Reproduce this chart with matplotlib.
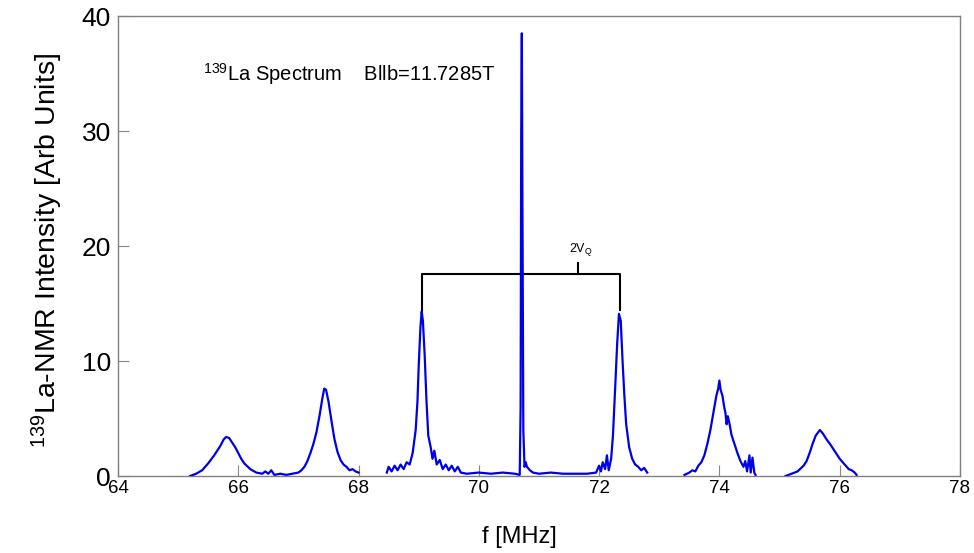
import matplotlib
matplotlib.use("Agg")
import matplotlib.pyplot as plt

plt.rcParams['font.family'] = ['Liberation Sans', 'DejaVu Sans']
plt.rcParams['mathtext.fontset'] = 'custom'
plt.rcParams['mathtext.rm'] = 'Liberation Sans'
plt.rcParams['mathtext.it'] = 'Liberation Sans:italic'

seg1_f = [65.20, 65.30, 65.40, 65.50, 65.60, 65.70, 65.76, 65.80, 65.85, 65.90, 65.95, 66.00,
          66.05, 66.10, 66.20, 66.30, 66.40, 66.45, 66.50, 66.55, 66.60, 66.70, 66.80, 66.90,
          67.00, 67.05, 67.10, 67.15, 67.20, 67.25, 67.30, 67.35, 67.40, 67.43, 67.46, 67.50,
          67.55, 67.60, 67.65, 67.70, 67.75, 67.80, 67.85, 67.90, 67.95, 68.00]
seg1_i = [0.0, 0.2, 0.5, 1.1, 1.8, 2.6, 3.2, 3.4, 3.3, 2.9, 2.5, 2.0,
          1.5, 1.1, 0.6, 0.3, 0.2, 0.4, 0.2, 0.5, 0.1, 0.2, 0.1, 0.2,
          0.3, 0.5, 0.8, 1.3, 2.0, 2.8, 3.8, 5.2, 6.8, 7.6, 7.5, 6.5,
          4.8, 3.2, 2.1, 1.4, 1.0, 0.8, 0.5, 0.6, 0.4, 0.3]

seg2_f = [68.47, 68.50, 68.55, 68.60, 68.65, 68.70, 68.75, 68.80, 68.85, 68.90, 68.95, 68.98,
          69.00, 69.03, 69.05, 69.07, 69.10, 69.13, 69.16, 69.20, 69.23, 69.26, 69.30, 69.35,
          69.40, 69.45, 69.50, 69.55, 69.60, 69.65, 69.70, 69.80, 70.00, 70.20, 70.40, 70.60,
          70.68, 70.695, 70.705, 70.715, 70.725, 70.74, 70.76, 70.78, 70.80, 70.85, 70.90, 71.00,
          71.20, 71.40, 71.60, 71.80, 71.95, 72.00, 72.03, 72.06, 72.10, 72.13, 72.16, 72.20,
          72.23, 72.27, 72.30, 72.33, 72.36, 72.39, 72.42, 72.45, 72.50, 72.55, 72.60, 72.65,
          72.70, 72.75, 72.80]
seg2_i = [0.3, 0.8, 0.4, 0.9, 0.5, 1.0, 0.6, 1.2, 1.0, 2.0, 4.0, 6.5,
          9.5, 13.0, 14.3, 13.5, 10.5, 6.5, 3.5, 2.5, 1.5, 2.2, 1.0, 1.4,
          0.6, 1.0, 0.5, 0.9, 0.4, 0.8, 0.3, 0.2, 0.3, 0.2, 0.3, 0.2,
          0.1, 6.0, 30.0, 38.5, 24.0, 4.0, 0.8, 1.2, 0.8, 0.5, 0.3, 0.2,
          0.3, 0.2, 0.2, 0.2, 0.3, 0.9, 0.4, 1.2, 0.6, 1.8, 0.5, 1.5,
          3.5, 8.0, 11.5, 14.1, 13.5, 10.0, 7.0, 4.5, 2.5, 1.5, 1.0, 0.8,
          0.5, 0.7, 0.3]

seg3_f = [73.42, 73.50, 73.55, 73.60, 73.65, 73.70, 73.75, 73.80, 73.85, 73.90, 73.95, 73.98,
          74.00, 74.02, 74.05, 74.08, 74.10, 74.12, 74.14, 74.17, 74.20, 74.25, 74.30, 74.35,
          74.40, 74.43, 74.46, 74.50, 74.52, 74.55, 74.58, 74.60]
seg3_i = [0.1, 0.3, 0.5, 0.4, 0.9, 1.2, 1.8, 2.8, 4.0, 5.5, 7.0, 7.6,
          8.3, 7.5, 7.0, 6.0, 5.5, 4.5, 5.2, 4.5, 3.6, 2.8, 2.0, 1.3,
          0.8, 1.3, 0.4, 1.8, 0.3, 1.6, 0.3, 0.1]

seg4_f = [75.10, 75.20, 75.30, 75.40, 75.45, 75.50, 75.55, 75.60, 75.67, 75.72, 75.78, 75.85,
          75.90, 75.95, 76.00, 76.05, 76.10, 76.15, 76.20, 76.25, 76.28]
seg4_i = [0.0, 0.2, 0.4, 0.9, 1.3, 2.0, 2.8, 3.5, 4.0, 3.7, 3.2, 2.7,
          2.3, 1.9, 1.5, 1.2, 0.9, 0.6, 0.5, 0.3, 0.1]

segments = [(seg1_f, seg1_i), (seg2_f, seg2_i), (seg3_f, seg3_i), (seg4_f, seg4_i)]

# bracket marking 2 nu_Q between satellites
bracket_left = 69.05
bracket_right = 72.35
bracket_y = 17.6
bracket_bottom = 14.4
bracket_tick_x = 71.65
bracket_tick_top = 18.5

x_ticks = [64, 66, 68, 70, 72, 74, 76, 78]
y_ticks = [0, 10, 20, 30, 40]

fig = plt.figure(figsize=(9.74, 5.53), dpi=100)
ax = fig.add_axes([0.1211, 0.1392, 0.8645, 0.8318])

ax.plot([bracket_left, bracket_left, bracket_right, bracket_right],
        [bracket_bottom, bracket_y, bracket_y, bracket_bottom], color='black', lw=1.5, zorder=2)
ax.plot([bracket_tick_x, bracket_tick_x], [bracket_y, bracket_tick_top], color='black', lw=1.5, zorder=2)
ax.text(bracket_tick_x + 0.05, bracket_tick_top + 0.5, r'2V$_{\mathrm{Q}}$', fontsize=9,
        ha='center', va='bottom')

for f, i in segments:
    ax.plot(f, i, color='#0000e8', lw=1.6, zorder=3, solid_joinstyle='round')

ax.text(65.41, 34.4, r'$^{\mathrm{139}}$La Spectrum    Bllb=11.7285T', fontsize=14.5,
        ha='left', va='baseline')

ax.set_xlim(64, 78)
ax.set_ylim(0, 40)
ax.set_xticks(x_ticks)
ax.set_yticks(y_ticks)
ax.tick_params(axis='both', direction='in', color='#888888', length=8, width=0.8)
ax.tick_params(axis='x', labelsize=13.5, pad=3)
ax.tick_params(axis='y', labelsize=19, pad=5)
for s in ax.spines.values():
    s.set_color('#808080')
    s.set_linewidth(1.0)

ax.set_xlabel('f [MHz]', fontsize=17)
ax.xaxis.set_label_coords(0.477, -0.108)
ax.set_ylabel(r'$^{\mathrm{139}}$La-NMR Intensity [Arb Units]', fontsize=20.5)
ax.yaxis.set_label_coords(-0.063, 0.49)

fig.savefig('out.png', dpi=100)
